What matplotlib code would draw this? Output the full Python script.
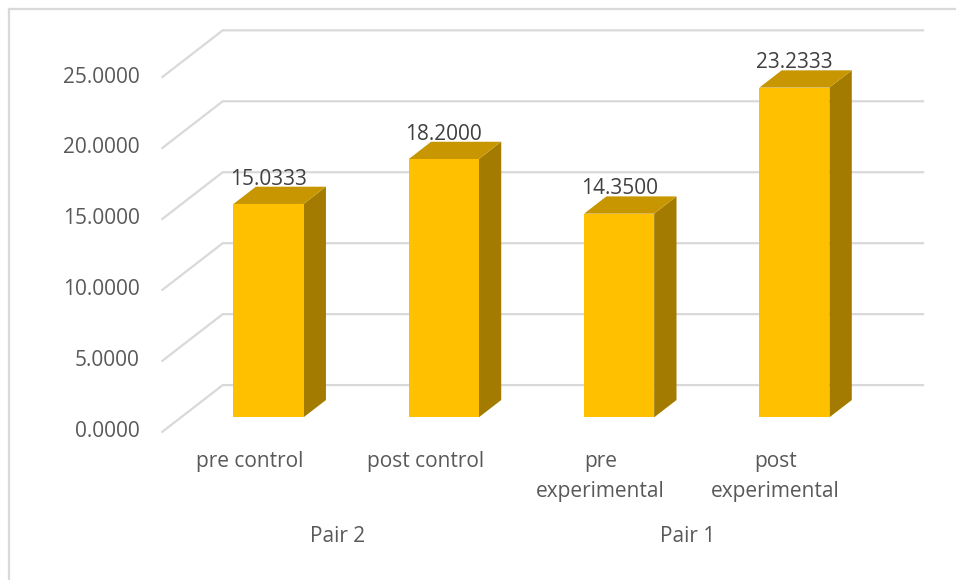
import numpy as np
import matplotlib.pyplot as plt
from matplotlib.patches import Polygon
from matplotlib.lines import Line2D

plt.rcParams['font.family'] = ['Open Sans', 'DejaVu Sans']

# data
categories = ['pre control', 'post control', 'pre\nexperimental', 'post\nexperimental']
groups = ['Pair 2', 'Pair 1']
values = [15.0333, 18.2000, 14.3500, 23.2333]
yticks = [0, 5, 10, 15, 20, 25]

# fake 3D geometry (in data units)
bar_w = 0.4
DX, DV = 0.3446, 3.291      # depth vector, floor front -> back wall
s_front = -0.31              # floor front edge, relative to bar front plane
s_back = 0.69                # back wall
s_bar = 0.37                 # bar depth
x_left = -0.499              # left edge of floor, at the bar front plane
x_right = 3.734              # right end of back wall

front_col = '#FFC000'
top_col = '#C79600'
side_col = '#A27B00'
grid_col = '#D9D9D9'
text_col = '#595959'

fig = plt.figure(figsize=(9.56, 5.8), dpi=100)
ax = fig.add_axes([0, 0, 1, 1])
ax.set_xlim(-1.532, 3.922)
ax.set_ylim(-11.466, 29.408)
ax.axis('off')

# gridlines: diagonal on the side plus horizontal on back wall
for v in yticks:
    x0 = x_left + s_front * DX
    y0 = v + s_front * DV
    x1 = x_left + s_back * DX
    y1 = v + s_back * DV
    ax.plot([x0, x1, x_right], [y0, y1, y1], color=grid_col, lw=1.6,
            solid_joinstyle='miter', zorder=1)
    ax.text(x0 - 0.13, y0, f'{v:.4f}', ha='right', va='center',
            fontsize=15, color=text_col)

# bars
for i, v in enumerate(values):
    l, r = i - bar_w / 2, i + bar_w / 2
    dx, dv = s_bar * DX, s_bar * DV
    front = [(l, 0), (r, 0), (r, v), (l, v)]
    top = [(l, v), (r, v), (r + dx, v + dv), (l + dx, v + dv)]
    side = [(r, 0), (r + dx, dv), (r + dx, v + dv), (r, v)]
    ax.add_patch(Polygon(side, closed=True, fc=side_col, ec='none', zorder=2))
    ax.add_patch(Polygon(top, closed=True, fc=top_col, ec='none', zorder=2))
    ax.add_patch(Polygon(front, closed=True, fc=front_col, ec='none', zorder=3))
    ax.text(i, v + 1.75, f'{v:.4f}', ha='center', va='center',
            fontsize=15, color='#404040', zorder=4)

# category labels on the floor front edge
for i, c in enumerate(categories):
    lab_x = i + s_front * DX
    if '\n' in c:
        top_line, bot_line = c.split('\n')
        ax.text(lab_x, -3.1, top_line, ha='center', va='center', fontsize=15, color=text_col)
        ax.text(lab_x, -5.2, bot_line, ha='center', va='center', fontsize=15, color=text_col)
    else:
        ax.text(lab_x, -3.1, c, ha='center', va='center', fontsize=15, color=text_col)

# group labels
for g, name in enumerate(groups):
    gx = 2 * g + 0.5 + s_front * DX
    ax.text(gx, -8.4, name, ha='center', va='center', fontsize=15, color=text_col)

# chart border (only top and left visible)
fig.add_artist(Line2D([9 / 956, 9 / 956], [0, 1 - 9 / 580], transform=fig.transFigure,
                      color=grid_col, lw=1.6))
fig.add_artist(Line2D([9 / 956, 1], [1 - 9 / 580, 1 - 9 / 580], transform=fig.transFigure,
                      color=grid_col, lw=1.6))

fig.savefig('out.png', dpi=100)
